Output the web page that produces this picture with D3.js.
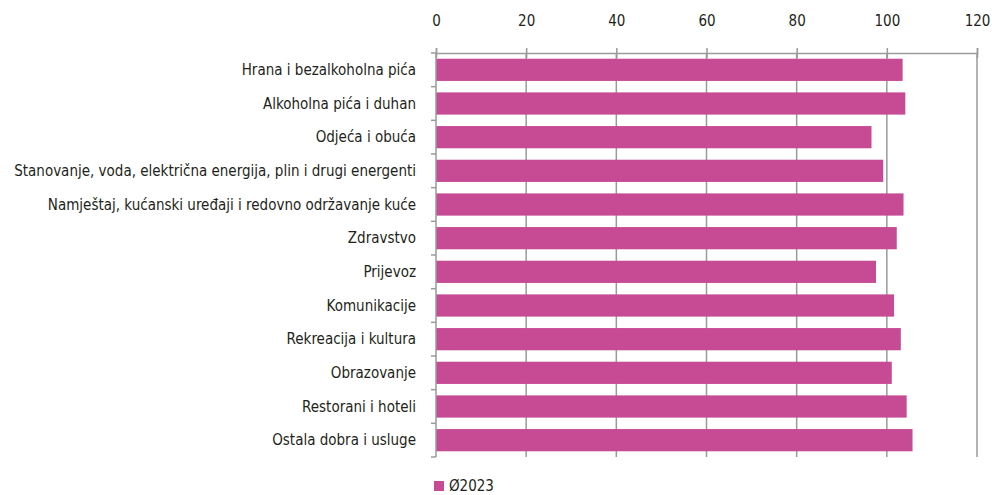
<!DOCTYPE html>
<html>
<head>
<meta charset="utf-8">
<script src="https://cdn.jsdelivr.net/npm/d3@7.9.0/dist/d3.min.js"></script>
<style>
  body { margin: 0; background: #fff; }
  svg text { font-family: "Liberation Sans Narrow", "DejaVu Sans Condensed", sans-serif; fill: #231f20; }
</style>
</head>
<body>
<svg id="chart" width="992" height="495"></svg>
<script>
const categories = [
  'Hrana i bezalkoholna pića',
  'Alkoholna pića i duhan',
  'Odjeća i obuća',
  'Stanovanje, voda, električna energija, plin i drugi energenti',
  'Namještaj, kućanski uređaji i redovno održavanje kuće',
  'Zdravstvo',
  'Prijevoz',
  'Komunikacije',
  'Rekreacija i kultura',
  'Obrazovanje',
  'Restorani i hoteli',
  'Ostala dobra i usluge'
];
const values2023 = [103.5, 104.1, 96.6, 99.2, 103.7, 102.2, 97.6, 101.6, 103.1, 101.1, 104.4, 105.7];
const xTicks = [0, 20, 40, 60, 80, 100, 120];
const seriesName = 'Ø2023';

const barColor = '#c64b94';
const gridColor = '#9a9a9a';

const svg = d3.select('#chart');
const margin = { top: 53, left: 436, right: 15, bottom: 38 };
const width = 992, height = 495;

const x = d3.scaleLinear().domain([0, 120]).range([margin.left, 977]);
const y = d3.scaleBand().domain(categories).range([margin.top, 457]).paddingInner(0.34).paddingOuter(0.17);

// gridlines
svg.append('g')
  .selectAll('line')
  .data(xTicks.filter(d => d > 0))
  .join('line')
  .attr('x1', d => x(d)).attr('x2', d => x(d))
  .attr('y1', margin.top).attr('y2', 457)
  .attr('stroke', gridColor).attr('stroke-width', 1.5);

// bars
svg.append('g')
  .selectAll('rect')
  .data(values2023)
  .join('rect')
  .attr('x', x(0))
  .attr('y', (d, i) => y(categories[i]))
  .attr('width', d => x(d) - x(0))
  .attr('height', y.bandwidth())
  .attr('fill', barColor);

// top axis
const xAxis = svg.append('g')
  .attr('transform', `translate(0,${margin.top})`)
  .call(d3.axisTop(x).tickValues(xTicks).tickSize(5).tickPadding(22));
xAxis.select('.domain').attr('stroke', gridColor).attr('stroke-width', 1.5);
xAxis.selectAll('.tick line').attr('stroke', gridColor).attr('stroke-width', 1.5).attr('y2', 5).attr('y1', -5);
xAxis.selectAll('.tick text').attr('font-size', 15).attr('fill', '#231f20');

// left axis with ticks between categories
const boundaries = categories.map(c => y(c) - y.step() * y.paddingInner() / 2).concat([457]);
const yAxis = svg.append('g');
yAxis.append('line')
  .attr('x1', x(0)).attr('x2', x(0))
  .attr('y1', margin.top).attr('y2', 457)
  .attr('stroke', gridColor).attr('stroke-width', 1.5);
yAxis.selectAll('line.tk')
  .data(boundaries)
  .join('line')
  .attr('class', 'tk')
  .attr('x1', x(0) - 5).attr('x2', x(0))
  .attr('y1', d => d).attr('y2', d => d)
  .attr('stroke', gridColor).attr('stroke-width', 1.5);
yAxis.selectAll('text')
  .data(categories)
  .join('text')
  .attr('x', 416)
  .attr('y', d => y(d) + y.bandwidth() / 2)
  .attr('dy', '0.35em')
  .attr('text-anchor', 'end')
  .attr('font-size', 15)
  .text(d => d);

// legend
const legend = svg.append('g').attr('transform', 'translate(434,481)');
legend.append('rect').attr('width', 10).attr('height', 10).attr('fill', barColor);
legend.append('text').attr('x', 15).attr('y', 5).attr('dy', '0.35em').attr('font-size', 15).text(seriesName);
</script>
</body>
</html>
